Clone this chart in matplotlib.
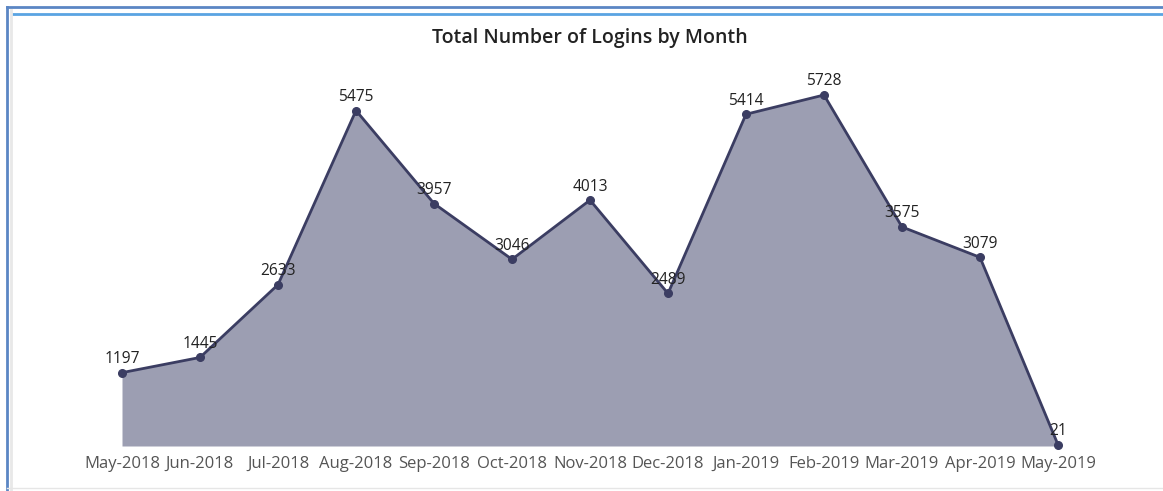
import matplotlib
matplotlib.use("Agg")
import matplotlib.pyplot as plt
from matplotlib.lines import Line2D

months = ["May-2018", "Jun-2018", "Jul-2018", "Aug-2018", "Sep-2018", "Oct-2018",
          "Nov-2018", "Dec-2018", "Jan-2019", "Feb-2019", "Mar-2019", "Apr-2019", "May-2019"]
logins = [1197, 1445, 2633, 5475, 3957, 3046, 4013, 2489, 5414, 5728, 3575, 3079, 21]

plt.rcParams['font.family'] = ['Open Sans', 'DejaVu Sans']

W, H = 1163, 491
fig = plt.figure(figsize=(W / 100, H / 100), dpi=100)
fig.patch.set_facecolor('white')

left_px, right_px, top_px, bottom_px = 122, 1058, 95, 446
ax = fig.add_axes([left_px / W, 1 - bottom_px / H, (right_px - left_px) / W, (bottom_px - top_px) / H])

x = list(range(len(months)))
ax.fill_between(x, logins, 0, color='#9c9eb2', linewidth=0)
ax.plot(x, logins, color='#3b3d62', linewidth=2, marker='o', markersize=5.5, clip_on=False, zorder=3)

for xi, v in zip(x, logins):
    ax.annotate(str(v), (xi, v), xytext=(0, 4), textcoords='offset points',
                ha='center', va='bottom', fontsize=11.2, color='#222222')

ax.set_xlim(0, len(months) - 1)
ax.set_ylim(0, max(logins))
ax.set_xticks(x)
ax.set_xticklabels(months, fontsize=12, color='#555555')
ax.tick_params(axis='x', length=0, pad=7)
ax.set_yticks([])
for s in ax.spines.values():
    s.set_visible(False)
ax.patch.set_alpha(0)

fig.text(590 / W, 1 - 38 / H, "Total Number of Logins by Month", ha='center', va='center',
         fontsize=14, fontweight='semibold', color='#222222')

# frame lines
fig.add_artist(Line2D([7 / W, 1], [1 - 7 / H, 1 - 7 / H], color='#5b86c4', linewidth=2, transform=fig.transFigure))
fig.add_artist(Line2D([13 / W, 1], [1 - 13.5 / H, 1 - 13.5 / H], color='#5aa4e2', linewidth=2, transform=fig.transFigure))
fig.add_artist(Line2D([7 / W, 7 / W], [0, 1 - 7 / H], color='#5b86c4', linewidth=2, transform=fig.transFigure))
fig.add_artist(Line2D([11 / W, 11 / W], [0, 1 - 10 / H], color='#e8e8e8', linewidth=2, transform=fig.transFigure))
fig.add_artist(Line2D([7 / W, 1], [1 - 488 / H, 1 - 488 / H], color='#e6e6e6', linewidth=1, transform=fig.transFigure))

fig.savefig('out.png', dpi=100, facecolor='white')
